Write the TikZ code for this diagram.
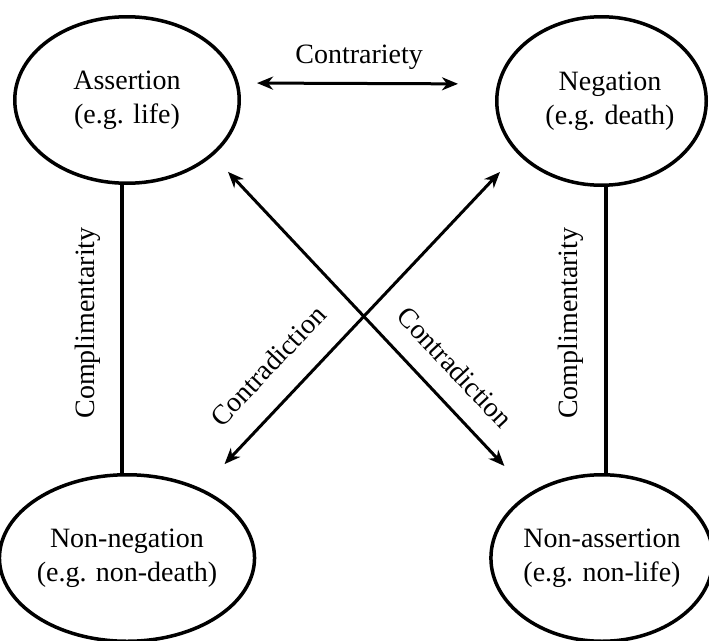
\documentclass[tikz,border=0pt]{standalone}
\usepackage{fontspec}
\setmainfont{Liberation Serif}
\usetikzlibrary{arrows.meta,shapes.geometric}
\begin{document}
\begin{tikzpicture}[x=1pt,y=-1pt,
  txt/.style={font=\fontsize{28}{34.5}\selectfont},
  oval/.style={ellipse, draw, line width=3.5pt, inner sep=0pt, align=center, txt},
  link/.style={line width=4.5pt},
  tip/.style={},
  arr/.style={line width=3pt, {Stealth[length=16pt,width=13pt,inset=5pt]}-{Stealth[length=16pt,width=13pt,inset=5pt]}},
  lbl/.style={txt, inner xsep=0pt}
]
\useasboundingbox (0,0) rectangle (709,640);
\node[oval, minimum width=224.5pt, minimum height=166.5pt] (tl) at (127,100) {Assertion\\(e.g. life)};
\node[oval, minimum width=209.5pt, minimum height=168.5pt] (tr) at (601.5,101) {\hspace*{17pt}Negation\\\hspace*{17pt}(e.g. death)};
\node[oval, minimum width=224.5pt, minimum height=166.5pt] (bl) at (127,558) {Non-negation\\(e.g. non-death)};
\node[oval, minimum width=208.5pt, minimum height=166.5pt] (br) at (602,558) {Non-assertion\\(e.g. non-life)};
% contrariety
\draw[arr, shorten <=16pt, shorten >=37pt] ([yshift=17pt]tl.east) -- ([yshift=17pt]tr.west)
  node[lbl, pos=0.465, above, inner ysep=12pt] (lc) {Contrariety};
% complementarity lines
\draw[link] ([xshift=-5pt]bl.north) -- ([xshift=-5pt]tl.south)
  node[lbl, pos=0.521, sloped, above, inner ysep=19pt] (l1) {Complimentarity};
\draw[link] ([xshift=4pt]br.north) -- ([xshift=4.5pt]tr.south)
  node[lbl, pos=0.524, sloped, above, inner ysep=20pt] (l2) {Complimentarity};
% contradictions
\draw[arr, shorten <=22pt, shorten >=36.8pt] (tl.-33.1) -- (br.138.2)
  node[lbl, pos=0.692, sloped, above, inner ysep=20.5pt] (l3) {Contradiction};
\draw[arr, shorten <=33.6pt, shorten >=25.2pt] (bl.43.2) -- (tr.-148)
  node[lbl, pos=0.293, sloped, above, inner ysep=24.5pt] (l4) {Contradiction};
\end{tikzpicture}
\end{document}
